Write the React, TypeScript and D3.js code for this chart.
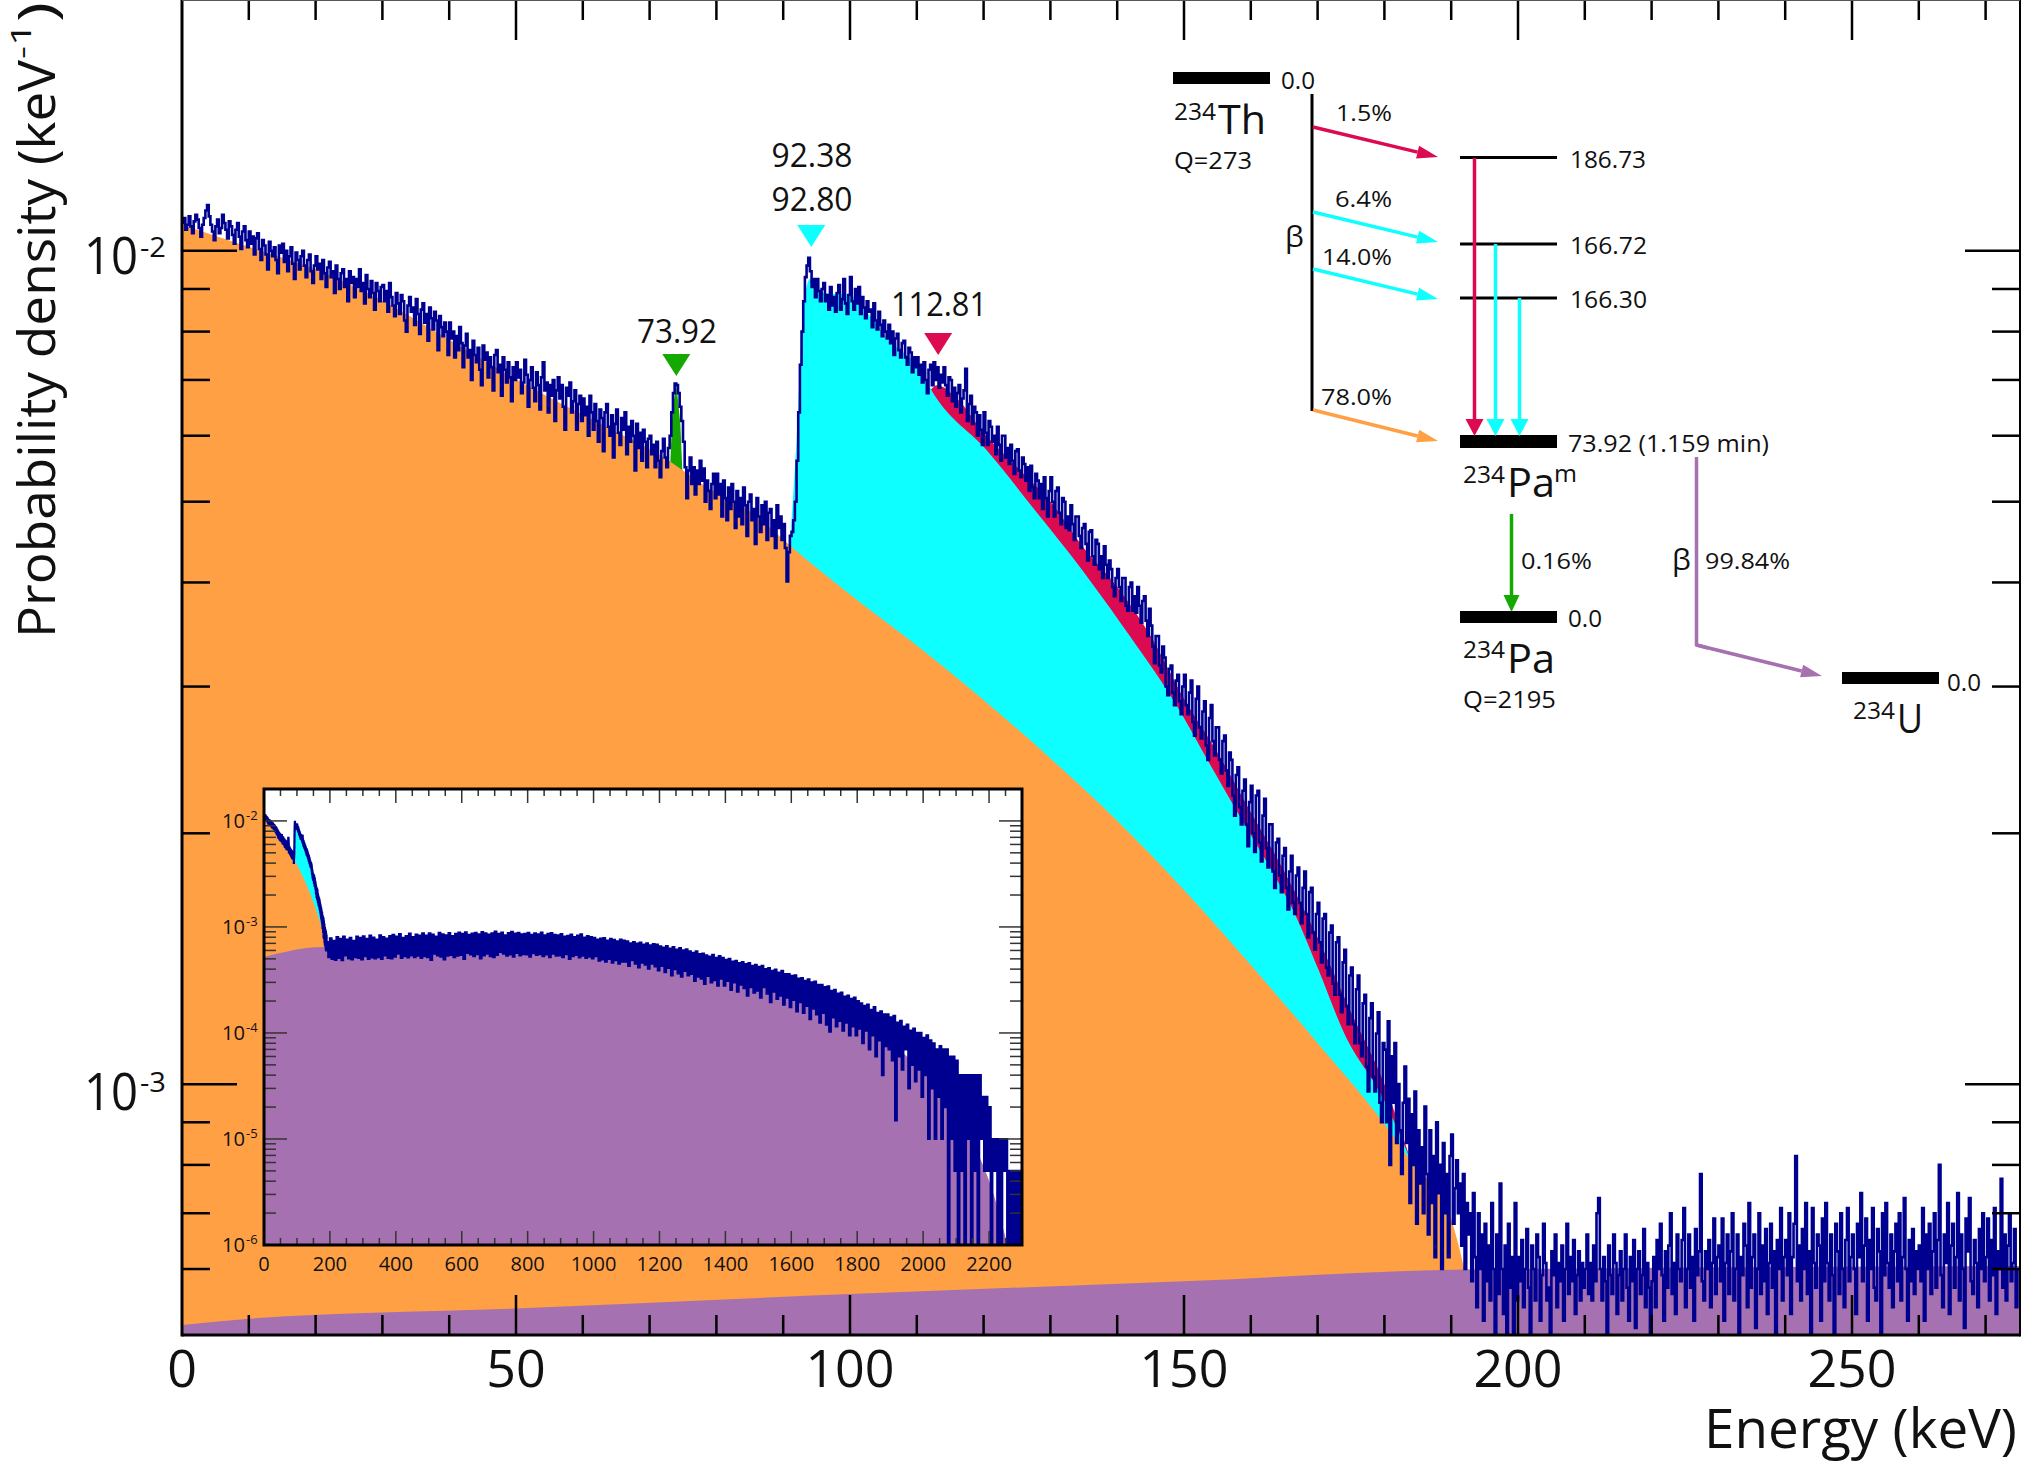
import React from 'react'
import * as d3 from 'd3'

// all series are read off the picture by eye; single noise spikes are estimates
const WIDTH = 2023
const HEIGHT = 1464
const FONT = '"Open Sans", sans-serif'

const NAVY = '#000090'
const ORANGE = '#ffa044'
const PURPLE = '#a671b0'
const CYAN = '#0dffff'
const CRIMSON = '#dc0a50'
const GREEN = '#14a800'

// measured spectrum, 0.25 keV bins, in 1e-5 per keV
const SPECTRUM_BIN = 0.25
const spectrum = [
  1080,1095,1060,1075,1100,1070,1050,1085,1105,1090,1065,1040,1075,1095,1118,1135,1100,1075,1055,1030,
  1070,1090,1050,1065,1105,1080,1060,1035,1085,1070,1045,1020,1060,1080,1040,1005,1055,1070,1030,1010,
  1055,1020,1040,990,1035,1050,1005,975,1030,1015,990,950,1025,1000,985,1010,975,940,1015,995,
  1020,970,1000,945,985,1010,965,925,995,975,950,985,1000,960,930,975,990,945,915,960,
  985,950,965,925,975,940,905,955,970,930,945,890,960,925,900,940,950,905,925,870,
  945,915,930,880,925,905,950,895,915,865,935,900,880,920,890,850,915,895,870,905,
  910,870,895,845,915,880,860,835,890,865,840,885,870,825,800,860,880,845,855,815,
  875,840,795,850,865,820,840,780,855,830,805,845,825,760,835,810,790,820,800,750,
  820,785,800,745,790,760,810,775,725,770,795,745,760,700,780,750,735,765,720,690,
  770,740,755,705,745,725,680,750,760,715,730,670,745,720,695,735,705,660,725,700,
  735,705,720,675,695,740,710,650,700,725,685,660,715,690,645,705,735,680,695,640,
  690,670,700,625,680,705,665,690,650,610,685,670,695,640,660,680,610,655,670,625,
  665,635,650,600,670,640,610,655,625,590,645,630,575,640,655,615,600,635,565,620,
  645,605,585,630,610,640,570,615,590,625,600,545,620,580,605,560,610,590,550,595,
  600,570,585,550,590,560,535,575,595,565,550,580,600,640,675,693,690,675,650,625,
  590,550,505,545,565,525,550,510,545,525,560,530,548,500,530,515,490,525,540,505,
  540,510,525,480,530,505,475,520,490,525,500,465,515,480,505,470,520,495,455,500,
  510,475,490,445,505,480,460,495,470,500,450,485,490,455,475,440,495,465,480,450,
  470,440,401,435,455,460,475,500,560,640,730,800,870,930,960,981,945,905,925,880,
  925,895,870,900,915,870,885,850,905,860,880,845,890,910,850,875,925,865,840,885,
  930,870,850,900,865,905,840,880,855,830,870,845,850,810,865,825,805,845,815,790,
  825,800,785,815,775,800,750,785,795,760,745,775,780,745,730,765,755,715,745,725,
  745,710,730,695,735,700,675,720,730,690,735,700,725,685,710,695,725,690,670,705,
  700,660,685,650,675,690,640,665,680,722,625,655,670,620,650,640,600,635,610,585,
  640,605,585,625,615,590,600,570,615,585,560,600,600,565,580,555,585,560,540,575,
  578,545,535,565,555,530,550,515,552,520,505,540,530,505,525,490,535,505,480,515,
  535,500,480,515,520,485,470,505,500,465,480,462,495,470,450,480,480,455,440,465,
  470,445,425,460,462,430,420,450,445,415,430,405,442,420,405,425,415,395,385,405,
  415,395,380,405,405,375,370,395,400,370,385,368,395,375,358,380,385,360,345,372,
  355,335,320,345,345,318,312,335,325,300,293,315,318,295,285,305,310,288,278,300,
  310,285,278,295,305,272,262,290,300,268,260,280,288,255,245,275,285,258,248,268,
  268,245,236,258,262,238,228,250,245,222,210,235,240,215,205,225,232,205,193,218,
  228,200,190,222,225,195,185,210,220,192,182,205,205,180,172,195,197,178,170,188,
  192,172,162,180,188,165,160,178,182,165,156,172,180,160,150,170,172,152,145,160,
  165,148,140,158,160,138,135,152,155,132,128,148,150,128,122,140,145,124,118,135,
  138,118,112,130,135,112,108,125,128,105,98,120,125,102,98,115,122,95,90,112,
  110,90,119,80,108,95,112,85,100,88,78,95,105,85,96,72,92,80,98,68,
  88,76,84,70,94,78,66,88,72,82,62,90,74,80,60,85,70,78,62,82,
  87,68,75,81,70,76,64,78,60,72,66,70,58,74,62,54,70,60,66,52,
  68,58,64,55,72,60,50,66,56,76,60,53,64,50,68,57,62,49,72,55,
  62,58,65,54,60,67,57,50,64,60,55,66,62,52,59,68,61,55,57,49,
  63,59,66,54,61,58,64,52,60,68,56,62,58,65,53,59,63,55,61,57,
  60,66,56,61,55,64,58,70,73,60,55,62,58,49,64,59,56,66,61,53,
  59,63,55,60,66,57,52,62,58,65,51,60,63,56,59,67,54,61,57,49,
  58,62,54,65,60,68,59,52,63,57,64,70,56,61,53,66,60,58,65,71,
  54,60,66,57,62,52,67,59,63,78,58,55,63,60,65,54,61,69,56,62,
  64,58,69,52,61,66,56,63,70,55,60,66,50,62,59,68,64,54,72,57,
  62,66,51,60,70,56,64,58,67,53,61,68,57,63,49,65,60,71,55,62,
  65,59,70,53,62,68,82,58,64,55,67,60,72,56,63,49,71,61,57,66,
  64,52,69,58,72,61,55,66,59,50,68,63,56,70,60,54,65,71,58,62,
  66,60,53,68,62,74,58,64,69,52,65,60,71,57,55,67,63,49,70,59,
  72,61,57,66,54,63,68,58,70,55,62,73,60,52,65,58,67,56,63,60,
  64,58,71,52,66,60,68,56,63,70,57,65,80,59,54,66,61,72,53,64,
  68,57,62,74,55,66,60,51,69,63,73,58,56,65,61,54,67,60,70,58,
  62,69,55,65,59,71,53,63,60,77,57,66,55,64,70,58,61,67,54,60,
]

// fitted components, 1e-5 per keV
const orangeKev = [0, 11, 20, 29, 40, 52, 63.5, 72, 78, 86, 91, 100, 110, 120, 130, 140, 150, 160, 170, 180, 184, 190, 192]
const orangeValues = [1075, 1005, 950, 880, 782, 687, 615, 566, 524, 481, 443, 387, 336, 289, 246, 207, 171, 139, 112, 89.6, 80.8, 68.8, 59.9]
const cyanKev = [91, 92, 93, 94, 96, 100, 103, 106, 108, 110, 112.7, 120.5, 127.9, 132.9, 140.9, 148.4, 154.4, 158.9, 163.9, 166.6, 170, 174, 180, 184]
const cyanValues = [443, 594, 848, 925, 890, 885, 835, 778, 755, 730, 670, 576, 486, 433, 354, 289, 238, 206, 176, 160, 138, 115, 95.5, 80.8]
const crimsonKev = [112, 113, 116, 120, 125, 130, 135, 140, 145, 150, 155, 160, 165, 170, 175, 180, 184]
const crimsonValues = [680, 690, 665, 605, 550, 500, 440, 395, 345, 290, 250, 212, 180, 150, 122, 100, 80.8]
const greenKev = [73.1, 73.4, 74, 74.6, 74.9]
const greenValues = [556, 640, 693, 620, 545]
const purpleKev = [0, 10, 50, 100, 150, 192, 275]
const purpleValues = [51.4, 52.3, 53.8, 56, 58, 59.9, 60.5]

const peakKev = [74, 94.2, 113.2]
const peakColors = [GREEN, CYAN, CRIMSON]

// inset: spectrum above 190 keV, 5 keV bins, in 1e-6 per keV
const INSET_START = 190
const INSET_BIN = 5
const insetTail = [
  720,520,780,500,740,490,800,510,770,485,810,540,760,505,790,495,740,520,810,510,
  790,495,815,530,770,500,830,515,795,505,760,520,835,500,800,540,775,510,820,505,
  840,525,810,560,855,510,790,530,820,515,865,540,800,520,845,535,830,510,870,530,
  830,520,870,490,845,560,810,540,880,525,850,495,835,535,875,545,820,520,860,535,
  885,545,860,500,890,570,840,550,865,530,880,555,850,505,895,540,870,560,845,530,
  870,520,905,545,860,580,885,560,835,535,875,550,900,525,865,570,880,540,850,555,
  860,550,880,525,840,565,870,545,850,555,885,530,835,550,860,520,875,560,840,535,
  835,540,855,520,810,555,825,500,845,530,800,545,830,515,850,535,795,510,820,525,
  800,505,790,530,760,480,775,495,785,470,745,500,770,460,755,485,730,450,760,470,
  745,470,730,430,700,485,720,450,695,415,710,460,680,440,700,405,670,450,690,425,
  680,390,655,430,640,375,660,410,625,350,645,400,610,365,630,340,600,385,615,350,
  590,360,570,310,590,340,555,325,560,290,540,345,525,300,545,315,510,280,530,325,
  510,280,490,310,500,255,470,300,480,245,455,285,465,265,445,225,455,270,430,240,
  440,250,420,215,430,270,400,235,410,195,385,245,395,210,370,225,385,185,360,215,
  360,175,345,205,350,160,325,195,330,155,310,180,320,135,300,170,305,150,285,125,
  285,155,270,120,275,103,250,140,255,115,235,130,240,105,220,125,225,95,210,115,
  215,95,200,110,190,80,180,105,185,70,165,95,175,60,155,85,160,40,150,75,
  150,70,140,55,145,15,125,60,130,45,115,70,120,30,105,50,110,35,100,45,
  100,25,90,40,95,10,85,30,80,10,70,25,75,10,70,20,70,0,60,10,
  60,5,55,0,40,5,40,0,40,10,40,0,40,5,40,0,40,10,25,5,
  25,5,20,0,10,5,10,0,10,0,10,5,10,0,5,0,5,0,5,0,
  5,0,
]
const insetPurpleKev = [0, 180, 240, 354, 517, 679, 842, 1004, 1167, 1330, 1492, 1655, 1817, 1980, 2061, 2142, 2207, 2256]
const insetPurpleValues = [521, 647, 625, 647, 671, 696, 671, 615, 502, 413, 321, 226, 127, 49.5, 26.8, 10.4, 3.5, 1]

const xTicks = d3.range(0, 271, 10)
const xLabels = [0, 50, 100, 150, 200, 250]
const yMinor = [6e-4, 7e-4, 8e-4, 9e-4, 2e-3, 3e-3, 4e-3, 5e-3, 6e-3, 7e-3, 8e-3, 9e-3]
const yMajor = [1e-3, 1e-2]
const insetXTicks = d3.range(0, 2301, 50)
const insetXLabels = d3.range(0, 2201, 200)
const insetDecades = [-2, -3, -4, -5, -6]

const margin = { left: 182, right: 2020, top: 0, bottom: 1335 }
const inset = { left: 264, right: 1022, top: 789, bottom: 1245 }

const x = d3.scaleLinear().domain([0, 275.15]).range([margin.left, margin.right])
const y = d3.scaleLog().domain([5e-4, 0.02]).range([margin.bottom, margin.top])
const ix = d3.scaleLinear().domain([0, 2300]).range([inset.left, inset.right])
const iy = d3.scaleLog().domain([1e-6, 0.02]).range([inset.bottom, inset.top])

const fill = (
  kev: number[], values: number[], unit: number,
  sx: (v: number) => number, sy: (v: number) => number, base: number, curve: any = d3.curveMonotoneX,
) => d3.area<number>()
  .x(i => sx(kev[i]))
  .y0(base)
  .y1(i => sy(values[i] * unit))
  .curve(curve)(kev.map((_, i) => i)) as string

const spectrumPoints = spectrum.map((v, i) => [i * SPECTRUM_BIN, v * 1e-5])
const insetPoints = [
  ...spectrumPoints.filter(d => d[0] < INSET_START),
  ...insetTail.map((v, i) => [INSET_START + i * INSET_BIN, Math.max(v, 0.5) * 1e-6]),
]
const mainLine = d3.line<number[]>().x(d => x(d[0])).y(d => y(d[1])).curve(d3.curveStepAfter)(spectrumPoints) as string
const insetLine = d3.line<number[]>().x(d => ix(d[0])).y(d => iy(d[1])).curve(d3.curveStepAfter)(insetPoints) as string

type LabelProps = { x: number, y: number, size: number, w?: number, anchor?: string, rotate?: boolean, children: React.ReactNode }
const Label = ({ x, y, size, w, anchor = 'start', rotate = false, children }: LabelProps) => (
  <text
    x={x} y={y} fontSize={size} textAnchor={anchor} fill="#111"
    textLength={w} lengthAdjust={w ? 'spacingAndGlyphs' : undefined}
    transform={rotate ? `rotate(-90 ${x} ${y})` : undefined}
  >{children}</text>
)

const Arrow = ({ x1, y1, x2, y2, color, len = 21, half = 6.5 }: any) => {
  const a = Math.atan2(y2 - y1, x2 - x1)
  const bx = x2 - len * Math.cos(a)
  const by = y2 - len * Math.sin(a)
  const nx = -Math.sin(a) * half
  const ny = Math.cos(a) * half
  return (
    <g>
      <line x1={x1} y1={y1} x2={bx} y2={by} stroke={color} strokeWidth={3.5} />
      <polygon points={`${x2},${y2} ${bx + nx},${by + ny} ${bx - nx},${by - ny}`} fill={color} />
    </g>
  )
}

const Nuclide = ({ left, massY, nameY, name, massW = 42, nameW = 48 }: any) => (
  <g>
    <Label x={left} y={massY} size={24} w={massW}>234</Label>
    <Label x={left + massW + 2} y={nameY} size={41} w={nameW}>{name}</Label>
  </g>
)

const DecayScheme = () => (
  <g>
    <rect x={1173} y={72} width={97} height={12} fill="#000" />
    <Label x={1281} y={89} size={23} w={34}>0.0</Label>
    <Nuclide left={1174} massY={120} nameY={134} name="Th" />
    <Label x={1174} y={169} size={23} w={78}>Q=273</Label>
    <line x1={1312} y1={94} x2={1312} y2={411} stroke="#000" strokeWidth={3} />
    <Label x={1285} y={247} size={30}>β</Label>

    <Arrow x1={1313} y1={127} x2={1438} y2={157} color={CRIMSON} />
    <Arrow x1={1313} y1={212} x2={1438} y2={242} color={CYAN} />
    <Arrow x1={1313} y1={269} x2={1438} y2={299} color={CYAN} />
    <Arrow x1={1313} y1={410} x2={1438} y2={441} color={ORANGE} />
    <Label x={1392} y={121} size={22} w={56} anchor="end">1.5%</Label>
    <Label x={1392} y={207} size={22} w={57} anchor="end">6.4%</Label>
    <Label x={1392} y={265} size={22} w={70} anchor="end">14.0%</Label>
    <Label x={1392} y={405} size={22} w={71} anchor="end">78.0%</Label>

    <line x1={1460} y1={157.5} x2={1557} y2={157.5} stroke="#000" strokeWidth={3} />
    <line x1={1460} y1={244} x2={1557} y2={244} stroke="#000" strokeWidth={3} />
    <line x1={1460} y1={298} x2={1557} y2={298} stroke="#000" strokeWidth={3} />
    <rect x={1460} y={435} width={97} height={13} fill="#000" />
    <Label x={1570} y={168} size={23} w={76}>186.73</Label>
    <Label x={1570} y={254} size={23} w={77}>166.72</Label>
    <Label x={1570} y={308} size={23} w={77}>166.30</Label>
    <Label x={1568} y={452} size={23} w={201}>73.92 (1.159 min)</Label>

    <Arrow x1={1474.5} y1={158} x2={1474.5} y2={436} color={CRIMSON} len={17} half={9} />
    <Arrow x1={1495.5} y1={244} x2={1495.5} y2={436} color={CYAN} len={17} half={9} />
    <Arrow x1={1519.5} y1={298} x2={1519.5} y2={436} color={CYAN} len={17} half={9} />

    <Nuclide left={1463} massY={483} nameY={497} name="Pa" />
    <Label x={1554} y={482} size={24} w={23}>m</Label>

    <Arrow x1={1511.5} y1={514} x2={1511.5} y2={612} color={GREEN} len={17} half={8} />
    <Label x={1521} y={569} size={22} w={71}>0.16%</Label>
    <rect x={1460} y={611} width={97} height={12} fill="#000" />
    <Label x={1568} y={627} size={23} w={34}>0.0</Label>
    <Nuclide left={1463} massY={658} nameY={673} name="Pa" />
    <Label x={1463} y={708} size={23} w={93}>Q=2195</Label>

    <polyline points="1696.5,457 1696.5,645 1708,648" fill="none" stroke={PURPLE} strokeWidth={3.5} />
    <Arrow x1={1696.5} y1={645} x2={1822} y2={676} color={PURPLE} />
    <Label x={1672} y={570} size={30}>β</Label>
    <Label x={1705} y={569} size={22} w={85}>99.84%</Label>

    <rect x={1842} y={672} width={97} height={12} fill="#000" />
    <Label x={1947} y={691} size={23} w={34}>0.0</Label>
    <Nuclide left={1853} massY={719} nameY={733} name="U" nameW={26} />
  </g>
)

const Inset = () => (
  <g>
    <clipPath id="inset-clip">
      <rect x={inset.left} y={inset.top} width={inset.right - inset.left} height={inset.bottom - inset.top} />
    </clipPath>
    <rect x={inset.left} y={inset.top} width={inset.right - inset.left} height={inset.bottom - inset.top} fill="#fff" />
    <g clipPath="url(#inset-clip)">
      <path d={fill(cyanKev, cyanValues, 1e-5, ix, iy, inset.bottom)} fill={CYAN} />
      <path d={fill(orangeKev, orangeValues, 1e-5, ix, iy, inset.bottom)} fill={ORANGE} />
      <path d={fill(insetPurpleKev, insetPurpleValues, 1e-6, ix, iy, inset.bottom)} fill={PURPLE} />
      <path d={insetLine} fill="none" stroke={NAVY} strokeWidth={2.2} />
    </g>
    <g stroke="#333" strokeWidth={1.5}>
      {insetXTicks.map(t => {
        const len = t % 200 === 0 ? 14 : 7
        return (
          <g key={t}>
            <line x1={ix(t)} x2={ix(t)} y1={inset.top} y2={inset.top + len} />
            <line x1={ix(t)} x2={ix(t)} y1={inset.bottom} y2={inset.bottom - len} />
          </g>
        )
      })}
      {insetDecades.map(d => (
        <g key={d}>
          <line x1={inset.left} x2={inset.left + 23} y1={iy(10 ** d)} y2={iy(10 ** d)} />
          <line x1={inset.right} x2={inset.right - 23} y1={iy(10 ** d)} y2={iy(10 ** d)} />
          {d > -6 && [2, 3, 4, 5, 6, 7, 8, 9].map(m => {
            const v = m * 10 ** (d - 1)
            return (
              <g key={m}>
                <line x1={inset.left} x2={inset.left + 12} y1={iy(v)} y2={iy(v)} />
                <line x1={inset.right} x2={inset.right - 12} y1={iy(v)} y2={iy(v)} />
              </g>
            )
          })}
        </g>
      ))}
    </g>
    <rect x={inset.left} y={inset.top} width={inset.right - inset.left} height={inset.bottom - inset.top} fill="none" stroke="#000" strokeWidth={3} />
    {insetXLabels.map(t => (
      <Label key={t} x={ix(t)} y={1271} size={20} anchor="middle">{t}</Label>
    ))}
    {insetDecades.map(d => (
      <g key={d}>
        <Label x={222} y={iy(10 ** d) + 7} size={20} w={23}>10</Label>
        <Label x={246} y={iy(10 ** d) - 1} size={13}>{d}</Label>
      </g>
    ))}
  </g>
)

export default function App () {
  return (
    <svg
      width={WIDTH} height={HEIGHT} viewBox={`0 0 ${WIDTH} ${HEIGHT}`}
      style={{ position: 'absolute', left: 0, top: 0, background: '#fff' }}
      fontFamily={FONT}
    >
      <clipPath id="plot-clip">
        <rect x={margin.left} y={margin.top} width={margin.right - margin.left} height={margin.bottom - margin.top} />
      </clipPath>

      <g clipPath="url(#plot-clip)">
        <path d={fill(crimsonKev, crimsonValues, 1e-5, x, y, margin.bottom)} fill={CRIMSON} />
        <path d={fill(cyanKev, cyanValues, 1e-5, x, y, margin.bottom)} fill={CYAN} />
        <path d={fill(greenKev, greenValues, 1e-5, x, y, margin.bottom, d3.curveLinear)} fill={GREEN} />
        <path d={fill(orangeKev, orangeValues, 1e-5, x, y, margin.bottom)} fill={ORANGE} />
        <path d={fill(purpleKev, purpleValues, 1e-5, x, y, margin.bottom)} fill={PURPLE} />
        <path d={mainLine} fill="none" stroke={NAVY} strokeWidth={2.6} />
      </g>

      <g stroke="#000">
        {xTicks.filter(t => t > 0).map(t => {
          const len = t % 50 === 0 ? 40 : 20
          return (
            <g key={t} strokeWidth={2.5}>
              <line x1={x(t)} x2={x(t)} y1={margin.bottom} y2={margin.bottom - len} />
              <line x1={x(t)} x2={x(t)} y1={margin.top} y2={margin.top + len} />
            </g>
          )
        })}
        {[...yMajor, ...yMinor].map(v => {
          const len = yMajor.includes(v) ? 55 : 28
          return (
            <g key={v} strokeWidth={2.5}>
              <line x1={margin.left} x2={margin.left + len} y1={y(v)} y2={y(v)} />
              <line x1={margin.right} x2={margin.right - len} y1={y(v)} y2={y(v)} />
            </g>
          )
        })}
        <line x1={margin.left} x2={margin.left} y1={margin.top} y2={margin.bottom + 1.5} strokeWidth={3} />
        <line x1={margin.right} x2={margin.right} y1={margin.top} y2={margin.bottom + 1.5} strokeWidth={2} />
        <line x1={margin.left} x2={margin.right} y1={margin.bottom} y2={margin.bottom} strokeWidth={3} />
        <line x1={margin.left} x2={margin.right} y1={margin.top + 0.5} y2={margin.top + 0.5} strokeWidth={1} stroke="#555" />
      </g>

      {xLabels.map(t => (
        <Label key={t} x={x(t)} y={1387} size={52} anchor="middle">{t}</Label>
      ))}
      <Label x={84} y={274} size={52} w={54}>10</Label>
      <Label x={140} y={257} size={28} w={26}>-2</Label>
      <Label x={84} y={1110} size={52} w={54}>10</Label>
      <Label x={140} y={1092} size={28} w={26}>-3</Label>
      <Label x={1704} y={1448} size={54} w={313}>Energy (keV)</Label>

      <Label x={55} y={638} size={52} w={578} rotate>Probability density (keV</Label>
      <Label x={31} y={59} size={28} w={36} rotate>-1</Label>
      <Label x={55} y={22} size={52} w={20} rotate>)</Label>

      {peakKev.map((k, i) => {
        const top = [354, 225, 333][i]
        const half = 14
        return (
          <polygon
            key={k} fill={peakColors[i]}
            points={`${x(k) - half},${top} ${x(k) + half},${top} ${x(k)},${top + 22}`}
          />
        )
      })}
      <Label x={812} y={167} size={32} w={81} anchor="middle">92.38</Label>
      <Label x={812} y={211} size={32} w={81} anchor="middle">92.80</Label>
      <Label x={677} y={343} size={32} w={80} anchor="middle">73.92</Label>
      <Label x={939} y={316} size={32} w={96} anchor="middle">112.81</Label>

      <DecayScheme />
      <Inset />
    </svg>
  )
}
